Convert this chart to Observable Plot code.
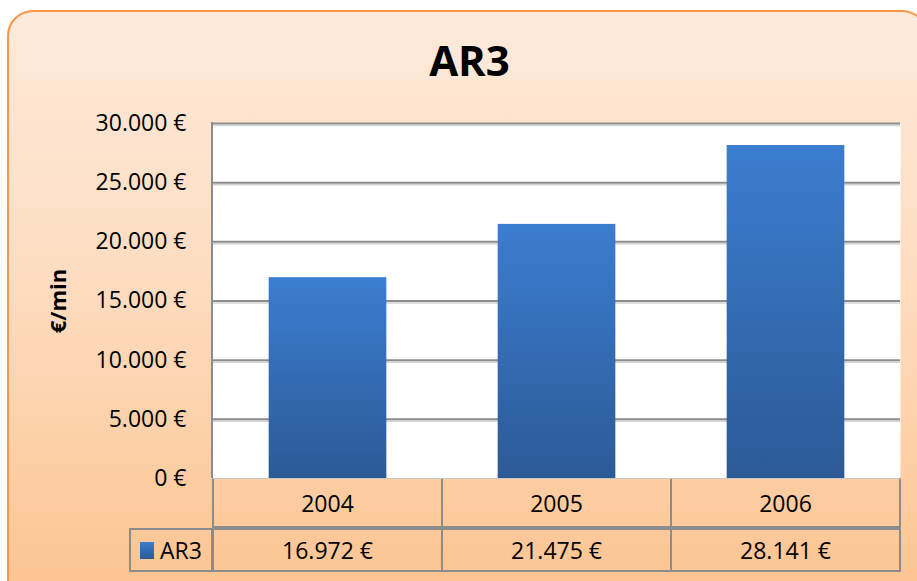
<!DOCTYPE html>
<html>
<head>
<meta charset="utf-8">
<script src="https://cdn.jsdelivr.net/npm/d3@7"></script>
<script src="https://cdn.jsdelivr.net/npm/@observablehq/plot@0.6"></script>
<style>
  html, body { margin: 0; padding: 0; width: 917px; height: 581px; overflow: hidden; background: #fff; font-family: "Open Sans", sans-serif; }
  #bg { position: absolute; left: 7px; top: 10px; width: 921px; height: 600px; box-sizing: border-box;
        border: 2px solid #f79646; border-radius: 26px;
        background: linear-gradient(to bottom, #feeadb 0%, #fddcc0 45%, #fcc38f 100%); }
  #chart { position: absolute; left: 0; top: 0; }
  #table { position: absolute; left: 0; top: 0; width: 917px; height: 581px; pointer-events: none; }
  .cell { position: absolute; box-sizing: border-box; border: 2px solid #8c8c8c; display: flex; align-items: center; justify-content: center; font-size: 23px; color: #000; }
  .key { display: inline-block; width: 14px; height: 17px; margin-right: 6px; background: linear-gradient(to bottom, #3b7dd0, #2c5a96); }
</style>
</head>
<body>
<div id="bg"></div>
<div id="table"></div>
<div id="chart"></div>
<script>
const title = "AR3";
const yLabel = "€/min";
const seriesName = "AR3";
const years = ["2004", "2005", "2006"];
const values = [16972, 21475, 28141];
const yTicks = [0, 5000, 10000, 15000, 20000, 25000, 30000];

const data = years.map((year, i) => ({year, value: values[i]}));

const locale = d3.formatLocale({decimal: ",", thousands: ".", grouping: [3], currency: ["", " €"]});
const fmt = locale.format("$,.0f");

const W = 917, H = 581;
const mTop = 123, mLeft = 212, mRight = 17, mBottom = 103;

const defs = () => {
  const d = d3.create("svg:defs");
  const g = d.append("linearGradient").attr("id", "barGrad").attr("x1", 0).attr("y1", 0).attr("x2", 0).attr("y2", 1);
  g.append("stop").attr("offset", "0%").attr("stop-color", "#3b7dd0");
  g.append("stop").attr("offset", "100%").attr("stop-color", "#2c5a96");
  return d.node();
};

const leftBorder = (index, scales, values, dims) => {
  return d3.create("svg:line")
    .attr("x1", dims.marginLeft).attr("x2", dims.marginLeft)
    .attr("y1", dims.marginTop - 1).attr("y2", dims.height - dims.marginBottom)
    .attr("stroke", "#8c8c8c").attr("stroke-width", 2).node();
};

const bandStep = (W - mLeft - mRight) / years.length;
const barInset = (bandStep - 118) / 2;

const chart = Plot.plot({
  width: W,
  height: H,
  marginTop: mTop,
  marginLeft: mLeft,
  marginRight: mRight,
  marginBottom: mBottom,
  style: {background: "transparent", fontFamily: "'Open Sans', sans-serif", overflow: "visible"},
  x: {domain: years, padding: 0, axis: null},
  y: {domain: [0, 30000], ticks: yTicks, tickFormat: fmt, label: null},
  marks: [
    defs,
    Plot.frame({fill: "white", stroke: null}),
    Plot.ruleY(yTicks.filter(t => t > 0), {stroke: "#d4d4d4", strokeWidth: 1.5, dy: 2}),
    Plot.ruleY(yTicks.filter(t => t > 0), {stroke: "#8c8c8c", strokeWidth: 2}),
    leftBorder,
    Plot.barY(data, {x: "year", y: "value", fill: "url(#barGrad)", insetLeft: barInset, insetRight: barInset}),
    Plot.axisY({ticks: yTicks, tickFormat: fmt, tickSize: 0, tickPadding: 26, fontSize: 23, fill: "#000", label: null}),
    Plot.text([yLabel], {frameAnchor: "left", dx: -154, rotate: -90, textAnchor: "middle", fontWeight: "bold", fontSize: 22, fill: "#000"}),
    Plot.text([title], {frameAnchor: "top", dx: 469 - (mLeft + (W - mLeft - mRight) / 2), dy: -61, fontWeight: "bold", fontSize: 42, fill: "#000", lineAnchor: "middle"})
  ]
});
document.getElementById("chart").appendChild(chart);

// data table below the plot, positioned with the chart's own x scale
const xs = chart.scale("x");
const table = document.getElementById("table");
const bw = xs.bandwidth;
const row1Top = H - mBottom, row1H = 51, row2Top = row1Top + row1H - 1, row2H = 44;
function addCell(left, top, w, h, html) {
  const c = document.createElement("div");
  c.className = "cell";
  c.style.left = left + "px"; c.style.top = top + "px";
  c.style.width = w + "px"; c.style.height = h + "px";
  c.innerHTML = html;
  table.appendChild(c);
  return c;
}
years.forEach((yr, i) => {
  const x0 = xs.apply(yr);
  addCell(x0 - 1, row1Top - 1, bw + 2, row1H, yr);
  addCell(x0 - 1, row2Top, bw + 2, row2H, fmt(values[i]));
});
const lc = addCell(129, row2Top, mLeft - 129 + 1, row2H, `<span class="key"></span>${seriesName}`);
lc.style.justifyContent = "flex-start";
lc.style.paddingLeft = "9px";
</script>
</body>
</html>
